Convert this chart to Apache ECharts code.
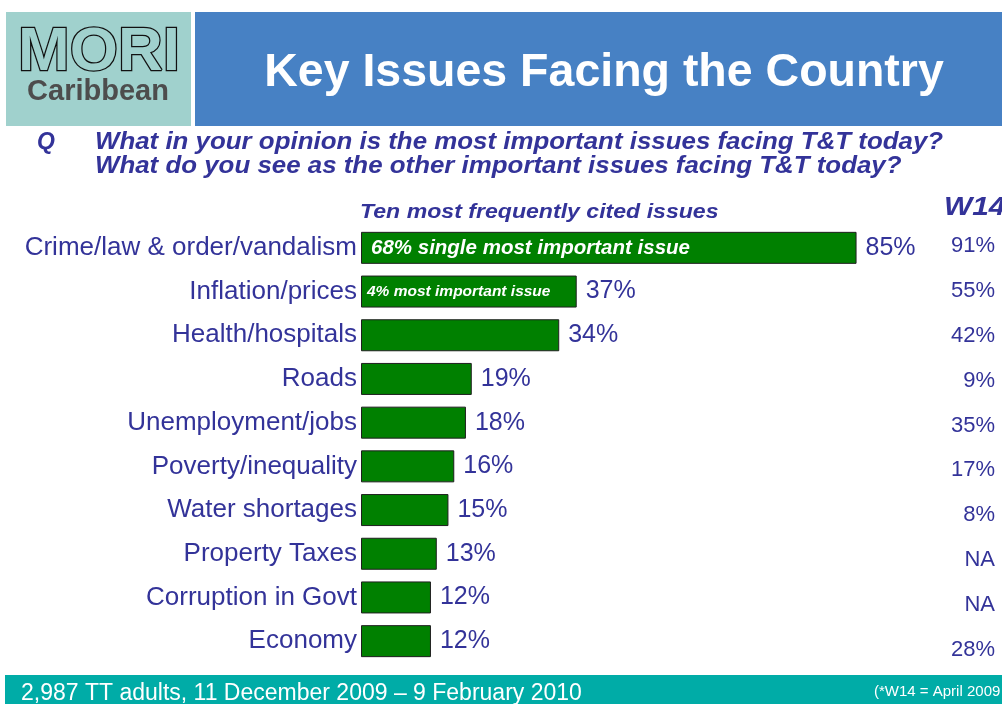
<!DOCTYPE html>
<html>
<head>
<meta charset="utf-8">
<script src="https://cdn.jsdelivr.net/npm/echarts@6/dist/echarts.min.js"></script>
<style>
html,body{margin:0;padding:0;background:#fff;}
#chart{width:1002px;height:704px;}
</style>
</head>
<body>
<div id="chart"></div>
<script>
const categories = ['Crime/law & order/vandalism','Inflation/prices','Health/hospitals','Roads','Unemployment/jobs','Poverty/inequality','Water shortages','Property Taxes','Corruption in Govt','Economy'];
const values = [85,37,34,19,18,16,15,13,12,12];
const w14Labels = ['91%','55%','42%','9%','35%','17%','8%','NA','NA','28%'];
const annotations = ['68% single most important issue','4% most important issue','','','','','','','',''];
const annotationSizes = [20.5,15.5,0,0,0,0,0,0,0,0];

const TXT = '#333399';
const FONT = '"Liberation Sans", Arial, sans-serif';

const chart = echarts.init(document.getElementById('chart'), null, {renderer:'canvas'});

const overlayData = values.map((v,i)=>({
  value: v,
  label: {
    show: annotations[i] !== '',
    formatter: annotations[i],
    fontSize: annotationSizes[i] || 12,
    distance: i === 0 ? 10 : 6
  }
}));

function txt(x, y, text, size, opts) {
  const o = opts || {};
  return {
    type:'text', x:x, y:y, scaleX:o.sx || 1, originX:0, originY:0,
    style:Object.assign({text:text, fontFamily:FONT, fontSize:size, fill:TXT, verticalAlign:'middle'}, o.style || {})
  };
}

chart.setOption({
  animation: false,
  textStyle: {fontFamily: FONT},
  graphic: [
    {type:'rect', shape:{x:6,y:12,width:185,height:114}, style:{fill:'#a0d1cd'}, silent:true},
    {type:'rect', shape:{x:195,y:12,width:807,height:114}, style:{fill:'#4781c4'}, silent:true},
    {type:'text', x:99, y:53, style:{text:'MORI', fontFamily:FONT, fontWeight:'bold', fontSize:62, fill:'#a0d1cd', stroke:'#111111', lineWidth:2.5, align:'center', verticalAlign:'middle'}},
    {type:'text', x:98, y:92, style:{text:'Caribbean', fontFamily:FONT, fontWeight:'bold', fontSize:29, fill:'#4d4d4d', align:'center', verticalAlign:'middle'}},
    {type:'text', x:604, y:73, style:{text:'Key Issues Facing the Country', fontFamily:FONT, fontWeight:'bold', fontSize:46.5, fill:'#ffffff', align:'center', verticalAlign:'middle'}},
    txt(37, 143, 'Q', 23, {style:{fontWeight:'bold', fontStyle:'italic'}}),
    txt(95, 143, 'What in your opinion is the most important issues facing T&T today?', 23, {sx:1.125, style:{fontWeight:'bold', fontStyle:'italic'}}),
    txt(95, 167, 'What do you see as the other important issues facing T&T today?', 23, {sx:1.125, style:{fontWeight:'bold', fontStyle:'italic'}}),
    txt(360, 212, 'Ten most frequently cited issues', 21, {sx:1.1, style:{fontWeight:'bold', fontStyle:'italic'}}),
    txt(944, 208, 'W14', 26, {sx:1.15, style:{fontWeight:'bold', fontStyle:'italic'}}),
    {type:'rect', shape:{x:5,y:675,width:997,height:29}, style:{fill:'#00aca7'}, silent:true},
    txt(21, 694, '2,987 TT adults, 11 December 2009 \u2013 9 February 2010', 23, {style:{fill:'#ffffff'}}),
    txt(874, 692, '(*W14 = April 2009', 15, {style:{fill:'#ffffff'}})
  ],
  grid: [
    {left:361, right:58, top:226, bottom:41, containLabel:false},
    {left:361, right:58, top:224, bottom:32, containLabel:false}
  ],
  xAxis: [
    {type:'value', min:0, max:100, show:false, gridIndex:0},
    {type:'value', min:0, max:100, show:false, gridIndex:1}
  ],
  yAxis: [
    {
      type:'category', data:categories, inverse:true, gridIndex:0,
      axisLine:{show:false}, axisTick:{show:false}, splitLine:{show:false},
      axisLabel:{color:TXT, fontSize:26, margin:4, fontFamily:FONT}
    },
    {
      type:'category', data:w14Labels, inverse:true, position:'right', gridIndex:1,
      axisLine:{show:false}, axisTick:{show:false}, splitLine:{show:false},
      axisLabel:{color:TXT, fontSize:22, margin:51, align:'right', fontFamily:FONT}
    }
  ],
  series: [
    {
      type:'bar', data:values, barWidth:32, xAxisIndex:0, yAxisIndex:0,
      itemStyle:{color:'#008000', borderColor:'#1f1f1f', borderWidth:1},
      label:{show:true, position:'right', distance:9, formatter:'{c}%', color:TXT, fontSize:25, fontFamily:FONT}
    },
    {
      type:'bar', data:overlayData, barWidth:32, barGap:'-100%', z:3, xAxisIndex:0, yAxisIndex:0,
      itemStyle:{color:'rgba(0,0,0,0)'},
      label:{position:'insideLeft', color:'#ffffff', fontWeight:'bold', fontStyle:'italic', fontFamily:FONT},
      silent:true
    }
  ]
});
</script>
</body>
</html>
